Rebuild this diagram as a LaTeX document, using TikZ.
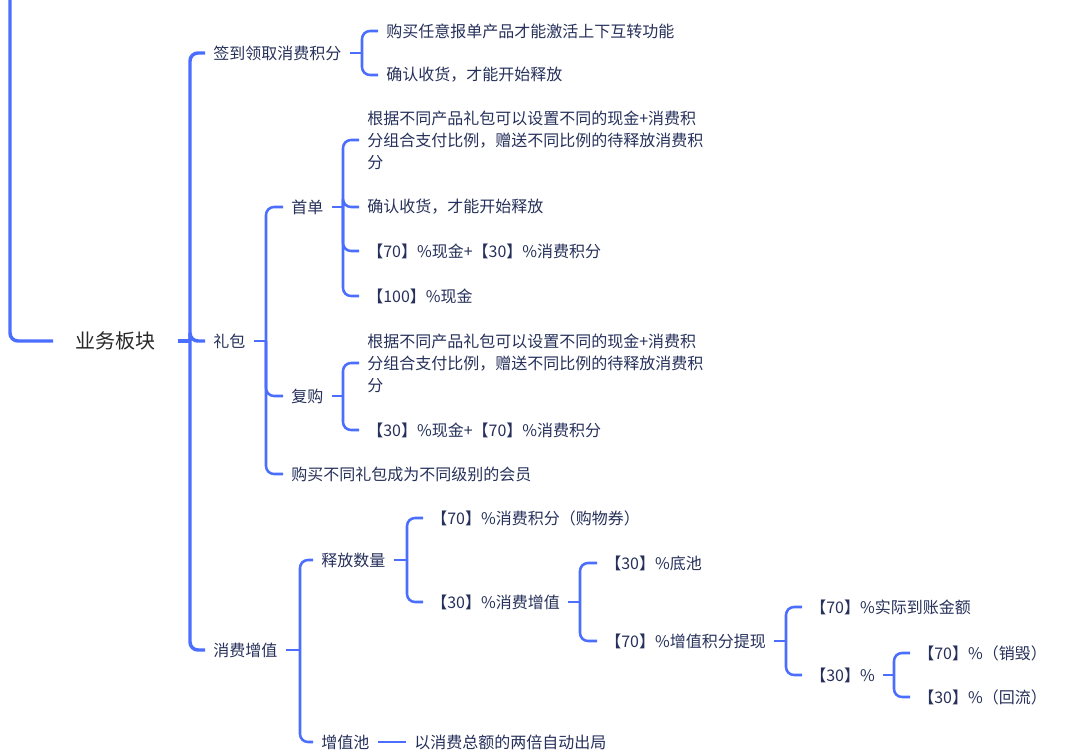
\documentclass[tikz,border=0pt]{standalone}
\usepackage{fontspec}
\setmainfont{Noto Sans CJK SC}
\definecolor{linec}{RGB}{75,110,255}
\definecolor{txtc}{RGB}{38,48,90}
\definecolor{roottxt}{RGB}{40,40,40}
\begin{document}
\begin{tikzpicture}[x=0.75pt,y=-0.75pt,
  lbl/.style={anchor=west, inner xsep=6pt, inner ysep=1pt, text=txtc, font=\fontsize{12}{16.5}\selectfont, align=left},
  rootlbl/.style={anchor=west, inner xsep=16.5pt, text=roottxt, font=\fontsize{15}{18}\selectfont},
  conn/.style={draw=linec, line width=1.9pt, rounded corners=6pt},
  trunk/.style={conn, line width=2.6pt}]
\useasboundingbox (0,0) rectangle (1085,756);

% nodes
\node[rootlbl] (root) at (53,341) {业务板块};
\node[lbl] (qd) at (205,53) {签到领取消费积分};
\node[lbl] (lb) at (205,341) {礼包};
\node[lbl] (xf) at (205,650) {消费增值};
\node[lbl] (qd1) at (378,31) {购买任意报单产品才能激活上下互转功能};
\node[lbl] (qd2) at (378,75) {确认收货，才能开始释放};
\node[lbl] (sd) at (283,207) {首单};
\node[lbl] (fg) at (283,396) {复购};
\node[lbl] (hy) at (283,474) {购买不同礼包成为不同级别的会员};
\node[lbl] (sd1) at (359,140) {根据不同产品礼包可以设置不同的现金+消费积\\分组合支付比例，赠送不同比例的待释放消费积\\分};
\node[lbl] (sd2) at (359,207) {确认收货，才能开始释放};
\node[lbl] (sd3) at (359,251) {【70】\%现金+【30】\%消费积分};
\node[lbl] (sd4) at (359,296) {【100】\%现金};
\node[lbl] (fg1) at (359,363) {根据不同产品礼包可以设置不同的现金+消费积\\分组合支付比例，赠送不同比例的待释放消费积\\分};
\node[lbl] (fg2) at (359,430) {【30】\%现金+【70】\%消费积分};
\node[lbl] (sf) at (313,560) {释放数量};
\node[lbl] (zzc) at (313,742) {增值池};
\node[lbl] (zzc1) at (406,742) {以消费总额的两倍自动出局};
\node[lbl] (sf1) at (423,518) {【70】\%消费积分（购物券）};
\node[lbl] (sf2) at (423,602) {【30】\%消费增值};
\node[lbl] (dc) at (597,563) {【30】\%底池};
\node[lbl] (tx) at (597,641) {【70】\%增值积分提现};
\node[lbl] (tx1) at (802,607) {【70】\%实际到账金额};
\node[lbl] (tx2) at (802,675) {【30】\%};
\node[lbl] (xh) at (910,653) {【70】\%（销毁）};
\node[lbl] (hl) at (910,697) {【30】\%（回流）};

% bracket points
\coordinate (top) at (10,-5);
\coordinate (rb) at (190,341);
\coordinate (qdb) at (362,53);
\coordinate (lbb) at (266,341);
\coordinate (sdb) at (343,207);
\coordinate (fgb) at (343,396);
\coordinate (xfb) at (300,650);
\coordinate (sfb) at (407,560);
\coordinate (sf2b) at (580,602);
\coordinate (txb) at (786,641);
\coordinate (tx2b) at (894,675);

% connectors
\draw[trunk] (top) |- (root.west);
\draw[trunk] (root.east) -- (rb);
\draw[trunk] (rb) |- (qd.west);
\draw[trunk] (rb) |- (lb.west);
\draw[trunk] (rb) |- (xf.west);

\draw[conn] (qd.east) -- (qdb);
\draw[conn] (qdb) |- (qd1.west);
\draw[conn] (qdb) |- (qd2.west);

\draw[conn] (lb.east) -- (lbb);
\draw[conn] (lbb) |- (sd.west);
\draw[conn] (lbb) |- (fg.west);
\draw[conn] (lbb) |- (hy.west);

\draw[conn] (sd.east) -- (sdb);
\draw[conn] (sdb) |- (sd1.west);
\draw[conn] (sdb) |- (sd2.west);
\draw[conn] (sdb) |- (sd3.west);
\draw[conn] (sdb) |- (sd4.west);

\draw[conn] (fg.east) -- (fgb);
\draw[conn] (fgb) |- (fg1.west);
\draw[conn] (fgb) |- (fg2.west);

\draw[conn] (xf.east) -- (xfb);
\draw[conn] (xfb) |- (sf.west);
\draw[conn] (xfb) |- (zzc.west);
\draw[conn] (zzc.east) -- (zzc1.west);

\draw[conn] (sf.east) -- (sfb);
\draw[conn] (sfb) |- (sf1.west);
\draw[conn] (sfb) |- (sf2.west);

\draw[conn] (sf2.east) -- (sf2b);
\draw[conn] (sf2b) |- (dc.west);
\draw[conn] (sf2b) |- (tx.west);

\draw[conn] (tx.east) -- (txb);
\draw[conn] (txb) |- (tx1.west);
\draw[conn] (txb) |- (tx2.west);

\draw[conn] (tx2.east) -- (tx2b);
\draw[conn] (tx2b) |- (xh.west);
\draw[conn] (tx2b) |- (hl.west);
\end{tikzpicture}
\end{document}
